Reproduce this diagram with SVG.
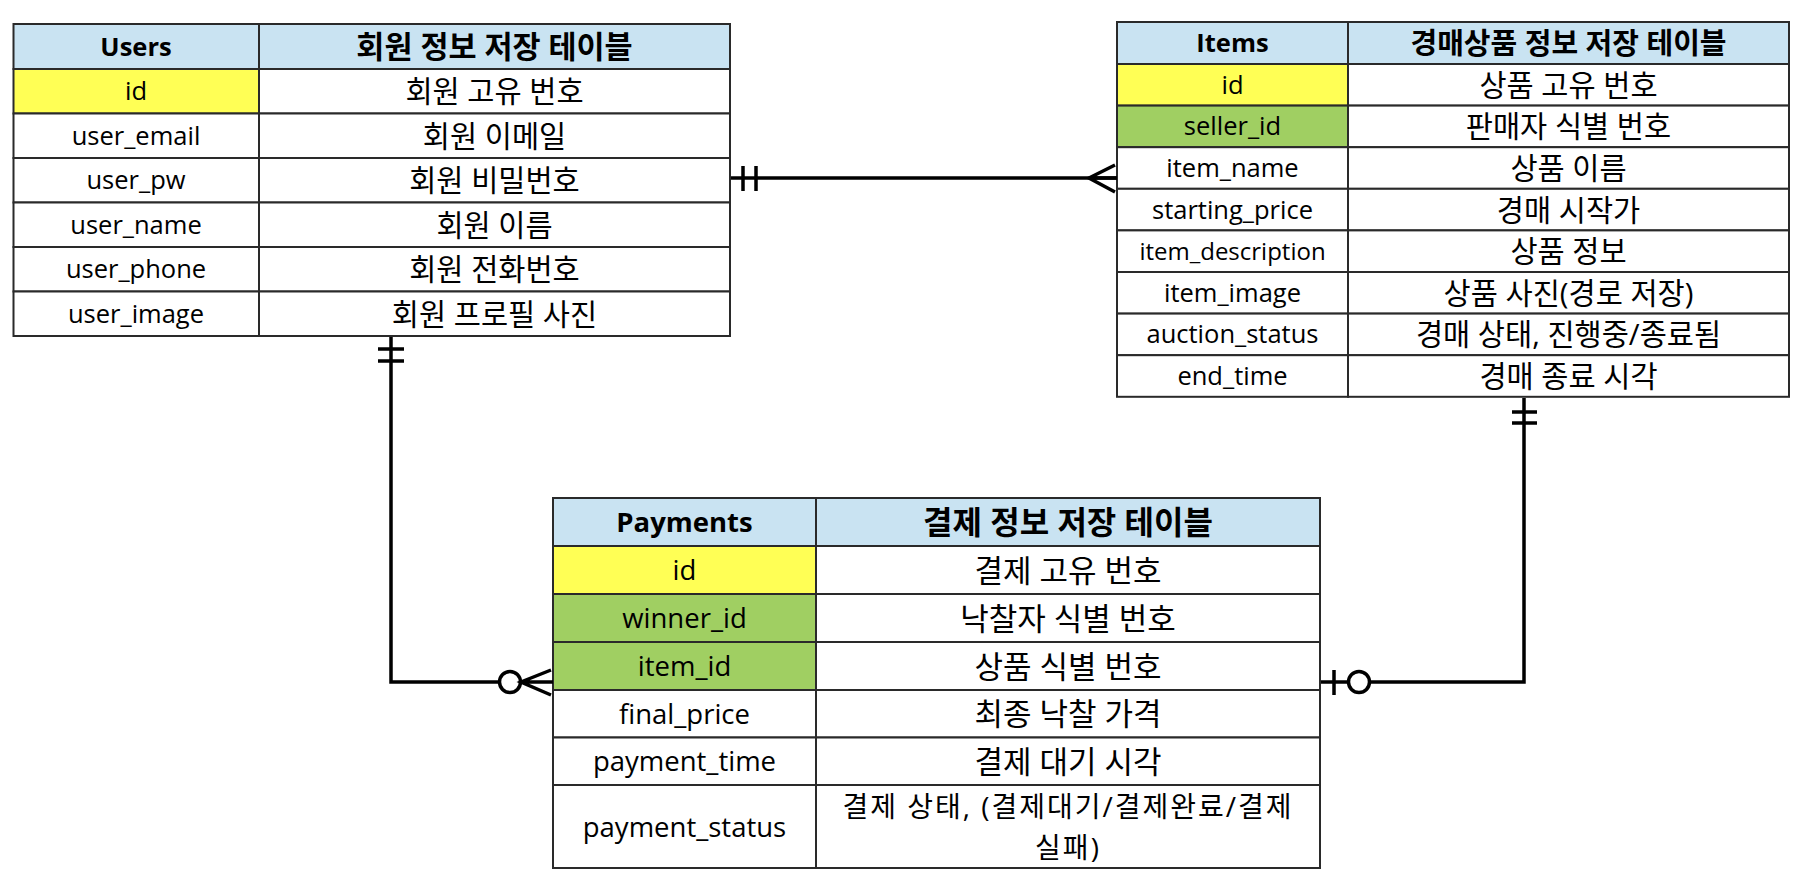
<svg xmlns="http://www.w3.org/2000/svg" width="1807" height="882" viewBox="0 0 1807 882">
<style>
.bg{fill:#ffffff}
.c{fill:#ffffff;stroke:#2a2a2a;stroke-width:2}
.h{fill:#c9e3f2;stroke:#2a2a2a;stroke-width:2}
.pk{fill:#ffff55;stroke:#2a2a2a;stroke-width:2}
.fk{fill:#a0cf62;stroke:#2a2a2a;stroke-width:2}
text{font-family:"Open Sans","Noto Sans CJK KR",sans-serif;font-size:25.5px;fill:#000;text-anchor:middle}
.b{font-weight:bold}
.k{font-size:29.5px}
.kp{font-size:31px}
.lp{font-size:27.5px}
.ln{fill:none;stroke:#000;stroke-width:3.5}
.o{fill:#fff;stroke:#000;stroke-width:3.5}
</style>
<rect class="bg" x="0" y="0" width="1807" height="882"/>

<g id="users">
<rect class="h" x="13.5" y="24" width="245.5" height="45"/><rect class="h" x="259" y="24" width="471" height="45"/>
<rect class="pk" x="13.5" y="69" width="245.5" height="44.5"/><rect class="c" x="259" y="69" width="471" height="44.5"/>
<rect class="c" x="13.5" y="113.5" width="245.5" height="44.5"/><rect class="c" x="259" y="113.5" width="471" height="44.5"/>
<rect class="c" x="13.5" y="158" width="245.5" height="44.5"/><rect class="c" x="259" y="158" width="471" height="44.5"/>
<rect class="c" x="13.5" y="202.5" width="245.5" height="44.5"/><rect class="c" x="259" y="202.5" width="471" height="44.5"/>
<rect class="c" x="13.5" y="247" width="245.5" height="44.5"/><rect class="c" x="259" y="247" width="471" height="44.5"/>
<rect class="c" x="13.5" y="291.5" width="245.5" height="44.5"/><rect class="c" x="259" y="291.5" width="471" height="44.5"/>
<text class="b" x="136" y="56">Users</text><text class="b k" style="font-size:30.5px" x="494.5" y="58">회원 정보 저장 테이블</text>
<text x="136" y="100">id</text><text class="k" x="494.5" y="102">회원 고유 번호</text>
<text x="136" y="144.5">user_email</text><text class="k" x="494.5" y="146.5">회원 이메일</text>
<text x="136" y="189">user_pw</text><text class="k" x="494.5" y="191">회원 비밀번호</text>
<text x="136" y="233.5">user_name</text><text class="k" x="494.5" y="235.5">회원 이름</text>
<text x="136" y="278">user_phone</text><text class="k" x="494.5" y="280">회원 전화번호</text>
<text x="136" y="322.5">user_image</text><text class="k" x="494.5" y="324.5">회원 프로필 사진</text>
</g>

<g id="items">
<rect class="h" x="1117" y="22" width="231" height="42"/><rect class="h" x="1348" y="22" width="441" height="42"/>
<rect class="pk" x="1117" y="64" width="231" height="41.6"/><rect class="c" x="1348" y="64" width="441" height="41.6"/>
<rect class="fk" x="1117" y="105.6" width="231" height="41.6"/><rect class="c" x="1348" y="105.6" width="441" height="41.6"/>
<rect class="c" x="1117" y="147.2" width="231" height="41.6"/><rect class="c" x="1348" y="147.2" width="441" height="41.6"/>
<rect class="c" x="1117" y="188.8" width="231" height="41.6"/><rect class="c" x="1348" y="188.8" width="441" height="41.6"/>
<rect class="c" x="1117" y="230.4" width="231" height="41.6"/><rect class="c" x="1348" y="230.4" width="441" height="41.6"/>
<rect class="c" x="1117" y="272" width="231" height="41.6"/><rect class="c" x="1348" y="272" width="441" height="41.6"/>
<rect class="c" x="1117" y="313.6" width="231" height="41.6"/><rect class="c" x="1348" y="313.6" width="441" height="41.6"/>
<rect class="c" x="1117" y="355.2" width="231" height="41.6"/><rect class="c" x="1348" y="355.2" width="441" height="41.6"/>
<text class="b" x="1232.5" y="52">Items</text><text class="b k" style="font-size:29px" x="1568.5" y="54">경매상품 정보 저장 테이블</text>
<text x="1232.5" y="93.8">id</text><text class="k" x="1568.5" y="95.8">상품 고유 번호</text>
<text x="1232.5" y="135.4">seller_id</text><text class="k" x="1568.5" y="137.4">판매자 식별 번호</text>
<text x="1232.5" y="177">item_name</text><text class="k" x="1568.5" y="179">상품 이름</text>
<text x="1232.5" y="218.6">starting_price</text><text class="k" x="1568.5" y="220.6">경매 시작가</text>
<text x="1232.5" y="260.2" style="font-size:24px">item_description</text><text class="k" x="1568.5" y="262.2">상품 정보</text>
<text x="1232.5" y="301.8">item_image</text><text class="k" x="1568.5" y="303.8">상품 사진(경로 저장)</text>
<text x="1232.5" y="343.4">auction_status</text><text class="k" x="1568.5" y="345.4">경매 상태, 진행중/종료됨</text>
<text x="1232.5" y="385">end_time</text><text class="k" x="1568.5" y="387">경매 종료 시각</text>
</g>

<g id="payments">
<rect class="h" x="553" y="498" width="263" height="48"/><rect class="h" x="816" y="498" width="504" height="48"/>
<rect class="pk" x="553" y="546" width="263" height="48"/><rect class="c" x="816" y="546" width="504" height="48"/>
<rect class="fk" x="553" y="594" width="263" height="48"/><rect class="c" x="816" y="594" width="504" height="48"/>
<rect class="fk" x="553" y="642" width="263" height="48"/><rect class="c" x="816" y="642" width="504" height="48"/>
<rect class="c" x="553" y="690" width="263" height="47.5"/><rect class="c" x="816" y="690" width="504" height="47.5"/>
<rect class="c" x="553" y="737.5" width="263" height="47.5"/><rect class="c" x="816" y="737.5" width="504" height="47.5"/>
<rect class="c" x="553" y="785" width="263" height="83"/><rect class="c" x="816" y="785" width="504" height="83"/>
<text class="b lp" x="684.5" y="532">Payments</text><text class="b kp" style="font-size:32px" x="1068" y="534">결제 정보 저장 테이블</text>
<text class="lp" x="684.5" y="580">id</text><text class="kp" x="1068" y="582">결제 고유 번호</text>
<text class="lp" x="684.5" y="628">winner_id</text><text class="kp" x="1068" y="630">낙찰자 식별 번호</text>
<text class="lp" x="684.5" y="676">item_id</text><text class="kp" x="1068" y="678">상품 식별 번호</text>
<text class="lp" x="684.5" y="723.5">final_price</text><text class="kp" x="1068" y="725">최종 낙찰 가격</text>
<text class="lp" x="684.5" y="771">payment_time</text><text class="kp" x="1068" y="772.5">결제 대기 시각</text>
<text class="lp" x="684.5" y="836.5">payment_status</text>
<text style="font-size:28px;letter-spacing:2px" x="1068" y="817">결제 상태, (결제대기/결제완료/결제</text>
<text style="font-size:28px;letter-spacing:2px" x="1068" y="858">실패)</text>
</g>

<g id="connectors">
<path class="ln" d="M731 178 H1117"/>
<path class="ln" d="M743 166 V191 M756 166 V191"/>
<path class="ln" d="M1115 165 L1089 178 L1115 192 M1089 178 H1117"/>

<path class="ln" d="M391 337 V682 H498"/>
<path class="ln" d="M378 349 H404 M378 361 H404"/>
<circle class="o" cx="510" cy="682" r="10.5"/>
<path class="ln" d="M551 670 L521 682 L551 695 M521 682 H553"/>

<path class="ln" d="M1524 398 V682 H1370"/>
<path class="ln" d="M1512 412 H1537 M1512 423 H1537"/>
<path class="ln" d="M1321 682 H1348 M1334 670 V695"/>
<circle class="o" cx="1359" cy="682" r="10.5"/>
</g>
</svg>
